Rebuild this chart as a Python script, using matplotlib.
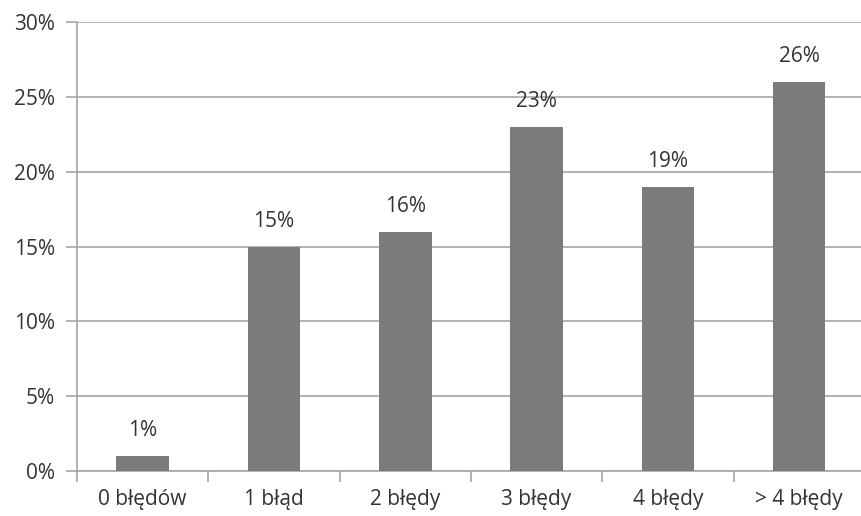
import numpy as np
import matplotlib.pyplot as plt
from matplotlib.ticker import FixedLocator, NullFormatter

categories = ["0 błędów", "1 błąd", "2 błędy", "3 błędy", "4 błędy", "> 4 błędy"]
values = [1, 15, 16, 23, 19, 26]
yticks = [0, 5, 10, 15, 20, 25, 30]

plt.rcParams['font.family'] = ['Open Sans', 'DejaVu Sans']
grid_c = "#a6a6a6"
text_c = "#333333"
fs = 15

fig = plt.figure(figsize=(8.62, 5.16), dpi=100)
ax = fig.add_axes([0.0893, 0.0872, 0.914, 0.870])

x = np.arange(len(categories))
bars = ax.bar(x, values, width=0.40, color="#7b7b7b", zorder=3)
for xi, v in zip(x, values):
    ax.text(xi, v + 1.0, f"{v}%", ha="center", va="bottom",
            fontsize=fs, color=text_c)

ax.set_xlim(-0.5, len(categories) - 0.5)
ax.set_ylim(0, 30)
ax.set_yticks(yticks)
ax.set_yticklabels([f"{t}%" for t in yticks], fontsize=fs, color=text_c)
ax.yaxis.grid(True, color=grid_c, linewidth=1.2, zorder=0)

ax.set_xticks(x)
ax.set_xticklabels(categories, fontsize=fs, color=text_c)
ax.tick_params(axis="x", which="major", length=0, pad=13)
ax.xaxis.set_minor_locator(FixedLocator(np.arange(-0.5, len(categories), 1.0)))
ax.xaxis.set_minor_formatter(NullFormatter())
ax.tick_params(axis="x", which="minor", length=8, color=grid_c, width=1.2)
ax.tick_params(axis="y", length=8, color=grid_c, width=1.2, pad=8)

for s in ["top", "right"]:
    ax.spines[s].set_visible(False)
for s in ["left", "bottom"]:
    ax.spines[s].set_color(grid_c)
    ax.spines[s].set_linewidth(1.2)

fig.savefig("out.png", dpi=100, facecolor="white")
